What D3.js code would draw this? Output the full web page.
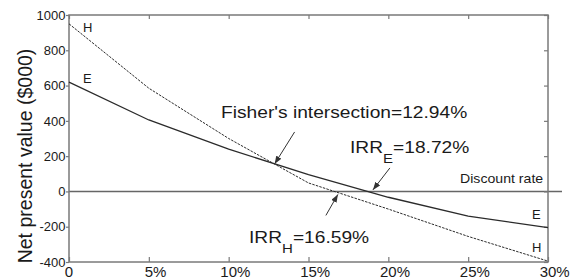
<!DOCTYPE html>
<html>
<head>
<meta charset="utf-8">
<script src="https://cdn.jsdelivr.net/npm/d3@7"></script>
<style>
  html, body { margin: 0; padding: 0; background: #fff; }
  svg { display: block; }
  text { font-family: "Liberation Sans", Arial, sans-serif; fill: #1a1a1a; }
</style>
</head>
<body>
<svg id="chart"></svg>
<script>
// NPV profiles of projects E and H vs discount rate
const rates = [0, 5, 10, 15, 20, 25, 30];
const npvE = [620, 405, 240, 95, -33, -140, -205];
const npvH = [950, 585, 300, 48, -100, -255, -395];

const xTicks = [0, 5, 10, 15, 20, 25, 30];
const xTickLabels = ['0', '5', '10', '15', '20', '25', '30'];
const yTicks = [-400, -200, 0, 200, 400, 600, 800, 1000];

const fisherRate = 12.94, fisherNpv = 150;
const irrE = 18.72, irrH = 16.59;

const W = 575, H = 279;
const m = { top: 15, right: 27, bottom: 17, left: 69 };

const svg = d3.select('#chart').attr('width', W).attr('height', H);

const x = d3.scaleLinear().domain([0, 30]).range([m.left, W - m.right]);
const y = d3.scaleLinear().domain([-400, 1000]).range([H - m.bottom, m.top]);

const axisCol = '#7a7a7a';
const lineCol = '#2b2b2b';

// arrow head marker
svg.append('defs').append('marker')
  .attr('id', 'arr')
  .attr('viewBox', '0 0 8 6')
  .attr('refX', 8).attr('refY', 3)
  .attr('markerWidth', 8).attr('markerHeight', 6)
  .attr('markerUnits', 'userSpaceOnUse')
  .attr('orient', 'auto')
  .append('path').attr('d', 'M0,0 L8,3 L0,6 Z').attr('fill', '#333');

// zero line (runs a bit past the right edge)
svg.append('line')
  .attr('x1', x(0)).attr('x2', x(30) + 14)
  .attr('y1', y(0)).attr('y2', y(0))
  .attr('stroke', '#666').attr('stroke-width', 1.4);

// frame
svg.append('rect')
  .attr('x', x(0)).attr('y', y(1000))
  .attr('width', x(30) - x(0)).attr('height', y(-400) - y(1000))
  .attr('fill', 'none').attr('stroke', axisCol).attr('stroke-width', 1.5);

// ticks: left outward, others inward
const bottomAx = d3.axisBottom(x).tickValues(xTicks).tickSize(-5).tickFormat('');
const topAx = d3.axisTop(x).tickValues(xTicks).tickSize(-4).tickFormat('');
const leftAx = d3.axisLeft(y).tickValues(yTicks).tickSize(3).tickFormat('');
const rightAx = d3.axisRight(y).tickValues(yTicks).tickSize(-4).tickFormat('');

[[bottomAx, `translate(0,${y(-400)})`], [topAx, `translate(0,${y(1000)})`],
 [leftAx, `translate(${x(0)},0)`], [rightAx, `translate(${x(30)},0)`]].forEach(([ax, tr]) => {
  const g = svg.append('g').attr('transform', tr).call(ax);
  g.select('.domain').remove();
  g.selectAll('line').attr('stroke', axisCol).attr('stroke-width', 1.2);
});

// y tick labels
svg.append('g').selectAll('text')
  .data(yTicks).enter().append('text')
  .attr('x', x(0) - 3.5).attr('y', d => y(d))
  .attr('dy', '0.36em')
  .attr('text-anchor', 'end')
  .style('font-size', '13px')
  .text(d => d);

// x tick labels: number centred on tick, % hanging after it
xTicks.forEach((t, i) => {
  const tx = svg.append('text')
    .attr('y', H - 2)
    .style('font-size', '15px');
  const num = tx.append('tspan').text(xTickLabels[i]);
  if (t !== 0) tx.append('tspan').text('%');
  const w = num.node().getComputedTextLength();
  tx.attr('x', x(t) - w / 2);
});

// y axis title
svg.append('text')
  .attr('transform', `translate(32,156) rotate(-90)`)
  .attr('text-anchor', 'middle')
  .style('font-size', '19.5px')
  .text('Net present value ($000)');

// NPV lines
const line = d3.line().x((d, i) => x(rates[i])).y(d => y(d));

svg.append('path').datum(npvE)
  .attr('d', line).attr('fill', 'none')
  .attr('stroke', lineCol).attr('stroke-width', 1.3);

svg.append('path').datum(npvH)
  .attr('d', line).attr('fill', 'none')
  .attr('stroke', lineCol).attr('stroke-width', 1)
  .attr('stroke-dasharray', '2.5,1.2');

// series letters
const letter = (txt, px, py) => svg.append('text')
  .attr('x', px).attr('y', py)
  .style('font-size', '13px')
  .text(txt);
letter('H', x(0) + 14, y(npvH[0]) + 8);
letter('E', x(0) + 14, y(npvE[0]) + 1);
letter('E', x(30) - 16, y(npvE[6]) - 9);
letter('H', x(30) - 16, y(npvH[6]) - 9);

// annotation text, slightly stretched sideways like the source
function note(px, py, size, sx) {
  return svg.append('text')
    .attr('transform', `translate(${px},${py}) scale(${sx},1)`)
    .style('font-size', size + 'px');
}

note(x(30) - 88, y(0) - 8, 12.5, 1.13).text('Discount rate');

note(221, 118, 16, 1.2).text(`Fisher's intersection=${fisherRate}%`);

const tE = note(350, 153, 16, 1.2);
tE.append('tspan').text('IRR');
tE.append('tspan').attr('dy', 10).style('font-size', '12.5px').text('E');
tE.append('tspan').attr('dy', -10).text(`=${irrE}%`);

const tH = note(249, 243, 16, 1.2);
tH.append('tspan').text('IRR');
tH.append('tspan').attr('dy', 10).style('font-size', '12.5px').text('H');
tH.append('tspan').attr('dy', -10).text(`=${irrH}%`);

// arrows pointing at the crossings
const arrows = [
  { tx: x(fisherRate) - 1, ty: y(fisherNpv) - 1, dx: 20, dy: -32 },
  { tx: x(irrE) + 5, ty: y(0) - 1.5, dx: 17, dy: -22 },
  { tx: x(irrH) + 4, ty: y(0) + 3, dx: -12, dy: 21 }
];
arrows.forEach(a => {
  svg.append('line')
    .attr('x1', a.tx + a.dx).attr('y1', a.ty + a.dy)
    .attr('x2', a.tx).attr('y2', a.ty)
    .attr('stroke', '#333').attr('stroke-width', 1)
    .attr('marker-end', 'url(#arr)');
});
</script>
</body>
</html>
